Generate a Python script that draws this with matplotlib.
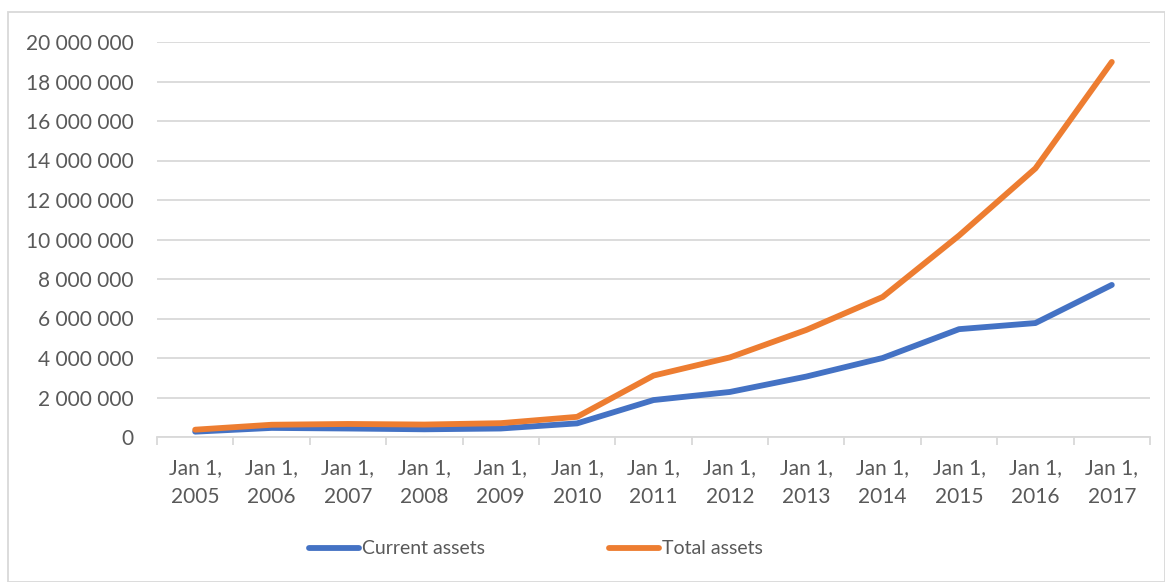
import matplotlib.pyplot as plt
from matplotlib.patches import Rectangle
from matplotlib.ticker import FuncFormatter, MultipleLocator, FixedLocator

# data
years = [2005, 2006, 2007, 2008, 2009, 2010, 2011, 2012, 2013, 2014, 2015, 2016, 2017]
labels = ["Jan 1,\n%d" % y for y in years]
current_assets = [270000, 460000, 430000, 390000, 430000, 690000, 1870000,
                  2280000, 3060000, 4000000, 5460000, 5770000, 7700000]
total_assets = [370000, 620000, 660000, 630000, 700000, 1020000, 3110000,
                4030000, 5420000, 7090000, 10200000, 13600000, 18990000]

plt.rcParams['font.family'] = ['Lato', 'DejaVu Sans']
grey = '#595959'

fig = plt.figure(figsize=(11.65, 5.82), dpi=100)
ax = fig.add_axes([157/1165, 1 - 437/582, (1150-157)/1165, (437-42)/582])

x = list(range(len(years)))
ax.plot(x, current_assets, color='#4472C4', lw=4.2, solid_capstyle='round',
        solid_joinstyle='round', label='Current assets')
ax.plot(x, total_assets, color='#ED7D31', lw=4.2, solid_capstyle='round',
        solid_joinstyle='round', label='Total assets')

ax.set_xlim(-0.5, len(years) - 0.5)
ax.set_ylim(0, 20000000)
ax.yaxis.set_major_locator(MultipleLocator(2000000))
ax.yaxis.set_major_formatter(FuncFormatter(lambda v, p: format(int(v), ',').replace(',', ' ')))
ax.set_xticks(x)
ax.set_xticklabels(labels)
ax.xaxis.set_minor_locator(FixedLocator([i - 0.5 for i in range(len(years) + 1)]))

ax.grid(axis='y', color='#D9D9D9', lw=1.3)
ax.set_axisbelow(True)
for s in ['top', 'right', 'left']:
    ax.spines[s].set_visible(False)
ax.spines['bottom'].set_color('#D9D9D9')
ax.spines['bottom'].set_linewidth(1.3)

ax.tick_params(axis='y', length=0, labelsize=15, labelcolor=grey, pad=17)
ax.tick_params(axis='x', which='major', length=0, labelsize=15, labelcolor=grey, pad=15)
ax.tick_params(axis='x', which='minor', length=6, width=1.3, color='#D9D9D9')
for t in ax.get_xticklabels():
    t.set_linespacing(1.6)

leg = fig.legend(loc='center', bbox_to_anchor=(536/1165, 1 - 549/582), ncol=2, frameon=False,
                 fontsize=14, handlelength=2.55, handletextpad=0.15, columnspacing=6.4)
for t in leg.get_texts():
    t.set_color(grey)

fig.patches.append(Rectangle((8/1165, 0), (1165-8)/1165, 1 - 12/582, transform=fig.transFigure,
                             fill=False, edgecolor='#D9D9D9', lw=1.3))

fig.savefig('out.png', dpi=100)
